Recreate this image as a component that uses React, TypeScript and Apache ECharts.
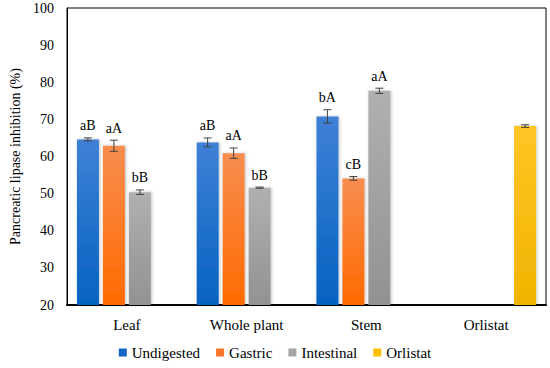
import React, { useEffect, useRef } from "react";
import * as echarts from "echarts";

const categories = ["Leaf", "Whole plant", "Stem", "Orlistat"];
const seriesNames = ["Undigested", "Gastric", "Intestinal", "Orlistat"];

const undigested = [64.6, 63.8, 70.8, null];
const gastric = [62.9, 60.9, 54.1, null];
const intestinal = [50.4, 51.6, 77.7, null];
const orlistat = [null, null, null, 68.2];

const undigestedErr = [0.4, 1.2, 1.8, 0];
const gastricErr = [1.5, 1.4, 0.5, 0];
const intestinalErr = [0.6, 0.15, 0.7, 0];
const orlistatErr = [0, 0, 0, 0.35];

const undigestedLabels = ["aB", "aB", "bA", ""];
const gastricLabels = ["aA", "aA", "cB", ""];
const intestinalLabels = ["bB", "bB", "aA", ""];
const orlistatLabels = ["", "", "", ""];

const FONT = "Liberation Serif";

export default function App() {
  const ref = useRef<HTMLDivElement>(null);
  useEffect(() => {
    document.body.style.margin = "0";
    if (!ref.current) return;
    const chart = echarts.init(ref.current, undefined, { renderer: "svg" });
    const values = [undigested, gastric, intestinal, orlistat];
    const errs = [undigestedErr, gastricErr, intestinalErr, orlistatErr];
    const labels = [undigestedLabels, gastricLabels, intestinalLabels, orlistatLabels];
    const grads = [
      ["#3f80d6", "#0563c1"],
      ["#f78d50", "#ff6a00"],
      ["#b0b0b0", "#929292"],
      ["#ffc524", "#f0b400"],
    ];
    const legendColors = ["#1565c8", "#f6732a", "#a5a5a5", "#ffc000"];
    const BAR_W = 22;
    const STEP = 26;

    const errData: any[] = [];
    values.forEach((arr, s) => {
      arr.forEach((v, c) => {
        if (v != null) errData.push([c, v, errs[s][c], s, labels[s][c]]);
      });
    });

    const barSeries = values.map((arr, s) => ({
      name: seriesNames[s],
      type: "bar",
      data: arr,
      barWidth: BAR_W,
      barGap: "18%",
      itemStyle: {
        color: new echarts.graphic.LinearGradient(0, 0, 0, 1, [
          { offset: 0, color: grads[s][0] },
          { offset: 1, color: grads[s][1] },
        ]),
        shadowColor: "rgba(0,0,0,0.25)",
        shadowBlur: 3,
        shadowOffsetX: 1,
      },
    }));

    chart.setOption({
      animation: false,
      color: legendColors,
      textStyle: { fontFamily: FONT, color: "#000" },
      grid: {
        left: 56,
        right: 4,
        top: 8,
        bottom: 63,
        show: true,
        borderColor: "#000",
        borderWidth: 1,
      },
      legend: {
        data: seriesNames.map((n, i) => ({
          name: n,
          itemStyle: { color: legendColors[i] },
          textStyle: { fontFamily: FONT, fontSize: 15, color: "#000" },
        })),
        bottom: 3,
        left: "center",
        icon: "rect",
        itemWidth: 8,
        itemHeight: 8,
        itemGap: 16,
        textStyle: { fontFamily: FONT, fontSize: 15, color: "#000" },
      },
      xAxis: {
        type: "category",
        data: categories,
        axisLine: { lineStyle: { color: "#000", width: 2 } },
        axisTick: { show: false },
        axisLabel: { fontFamily: FONT, fontSize: 15, color: "#000", margin: 12 },
      },
      yAxis: {
        type: "value",
        min: 20,
        max: 100,
        interval: 10,
        name: "Pancreatic lipase inhibition (%)",
        nameLocation: "middle",
        nameGap: 45,
        nameTextStyle: { fontFamily: FONT, fontSize: 14, color: "#000" },
        axisLine: { show: true, lineStyle: { color: "#000", width: 1 } },
        axisTick: { show: false },
        splitLine: { show: false },
        axisLabel: { fontFamily: FONT, fontSize: 14, color: "#000", margin: 13 },
      },
      series: [
        ...barSeries,
        {
          type: "custom",
          name: "err",
          data: errData,
          z: 10,
          renderItem: (params: any, api: any) => {
            const c = api.value(0);
            const v = api.value(1);
            const e = api.value(2);
            const s = api.value(3);
            const lab = errData[params.dataIndex][4];
            const off = (s - 1.5) * STEP;
            const top = api.coord([c, v + e]);
            const bot = api.coord([c, v - e]);
            const x = top[0] + off;
            const cap = 4;
            const st = { stroke: "#404040", lineWidth: 1 };
            const children: any[] = [
              { type: "line", shape: { x1: x, y1: top[1], x2: x, y2: bot[1] }, style: st },
              { type: "line", shape: { x1: x - cap, y1: top[1], x2: x + cap, y2: top[1] }, style: st },
              { type: "line", shape: { x1: x - cap, y1: bot[1], x2: x + cap, y2: bot[1] }, style: st },
            ];
            if (lab) {
              children.push({
                type: "text",
                style: {
                  text: lab,
                  x: x,
                  y: top[1] - 5,
                  textAlign: "center",
                  textVerticalAlign: "bottom",
                  fontFamily: FONT,
                  fontSize: 14,
                  fill: "#000",
                },
              });
            }
            return { type: "group", children };
          },
        },
      ],
    });
    return () => chart.dispose();
  }, []);
  return <div ref={ref} style={{ width: 550, height: 368 }} />;
}
